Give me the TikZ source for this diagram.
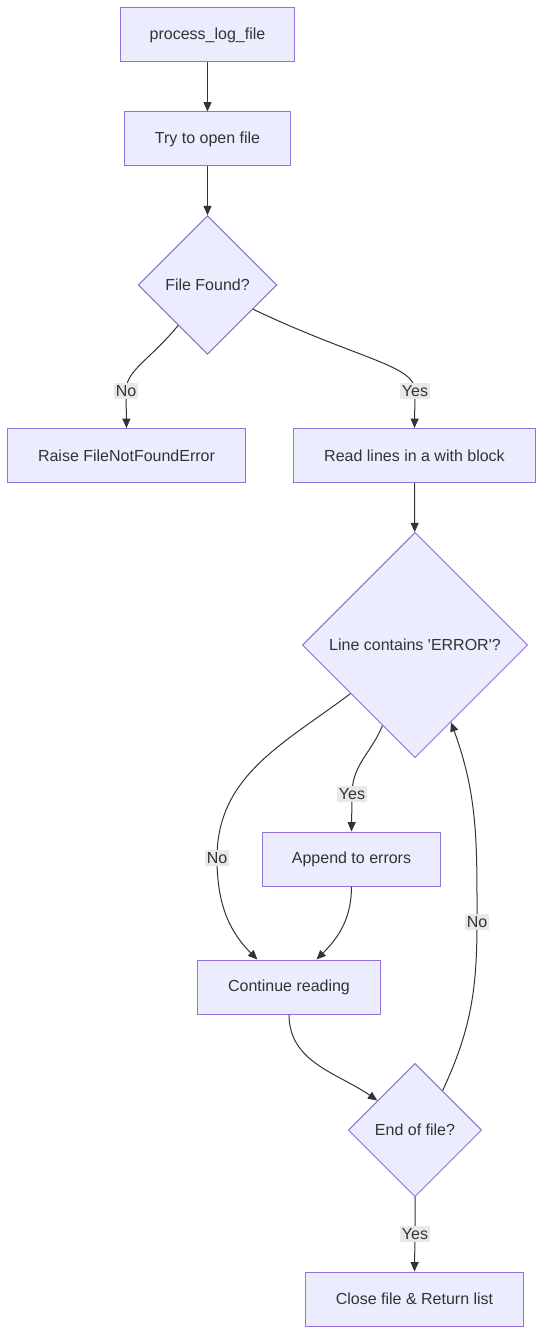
\documentclass[tikz,border=0pt]{standalone}
\usepackage{fontspec}
\setmainfont{Liberation Sans}
\usepackage{tikz}
\usetikzlibrary{shapes.geometric, arrows.meta, positioning}
\definecolor{nodefill}{HTML}{ECECFF}
\definecolor{nodeline}{HTML}{9370DB}
\definecolor{ink}{HTML}{333333}
\definecolor{labelbg}{HTML}{E8E8E8}

\begin{document}
\begin{tikzpicture}[x=0.75pt, y=-0.75pt,
    box/.style={rectangle, draw=nodeline, fill=nodefill, line width=0.75pt,
                minimum height=40.5pt, inner sep=0pt, align=center,
                font=\fontsize{12}{14}\selectfont, text=ink},
    decision/.style={diamond, draw=nodeline, fill=nodefill, line width=0.75pt,
                aspect=1, inner sep=0pt, align=center,
                font=\fontsize{12}{14}\selectfont, text=ink},
    edgelabel/.style={fill=labelbg, inner sep=1.5pt, text=ink,
                font=\fontsize{12}{14}\selectfont},
    flow/.style={draw=ink, line width=0.75pt, -{Triangle[length=7pt, width=6pt]}}]

    \useasboundingbox (0,0) rectangle (544,1334);

    % Start
    \node[box, minimum width=131pt] (start) at (207.5, 35) {process\_log\_file};

    % Open
    \node[box, minimum width=124pt] (open) at (207.5, 139) {Try to open file};

    % First check
    \node[decision, minimum width=104pt, minimum height=104pt] (found) at (207.5, 285) {File Found?};

    % Branches
    \node[box, minimum width=178pt] (raise) at (126.5, 455.5) {Raise FileNotFoundError};
    \node[box, minimum width=181pt] (read) at (414.5, 455.5) {Read lines in a with block};

    % Loop check
    \node[decision, minimum width=169pt, minimum height=169pt] (check) at (415, 645) {Line contains \textquotesingle ERROR\textquotesingle?};

    % Loop body
    \node[box, minimum width=134pt] (append) at (351.5, 859) {Append to errors};
    \node[box, minimum width=137pt] (cont) at (289, 987) {Continue reading};

    % End check
    \node[decision, minimum width=100pt, minimum height=100pt] (eof) at (415, 1130) {End of file?};

    % Output
    \node[box, minimum width=163pt] (close) at (414.5, 1299) {Close file \& Return list};

    % Label positions
    \coordinate (noA) at (126, 391);
    \coordinate (yesA) at (415, 391);
    \coordinate (yesB) at (352, 794);
    \coordinate (noB) at (217, 858);
    \coordinate (noC) at (477, 922);
    \coordinate (yesC) at (415, 1234);

    % Arrows
    \draw[flow] (start) -- (open);
    \draw[flow] (open) -- (found);
    \draw[flow] (found.234) .. controls (150, 360) and (126, 370) .. (noA) -- (raise.north);
    \draw[flow] (found.-28) .. controls (360, 360) and (415, 365) .. (yesA) -- (read.north);
    \draw[flow] (read) -- (check);
    \draw[flow] (check.248) to[out=248, in=90] (yesB) -- (append.north);
    \draw[flow] (check.217) to[out=217, in=90] (noB) to[out=-90, in=135] (cont.139);
    \draw[flow] (append.south) to[out=-90, in=45] (cont.45);
    \draw[flow] (cont.south) to[out=-90, in=145] (eof.142);
    \draw[flow] (eof.55) to[out=65, in=-90] (noC) to[out=90, in=-70] (check.-65);
    \draw[flow] (eof.south) -- (yesC) -- (close.north);

    % Labels
    \node[edgelabel] (lblNoA) at (noA) {No};
    \node[edgelabel] (lblYesA) at (yesA) {Yes};
    \node[edgelabel] (lblYesB) at (yesB) {Yes};
    \node[edgelabel] (lblNoB) at (noB) {No};
    \node[edgelabel] (lblNoC) at (noC) {No};
    \node[edgelabel] (lblYesC) at (yesC) {Yes};
\end{tikzpicture}
\end{document}
